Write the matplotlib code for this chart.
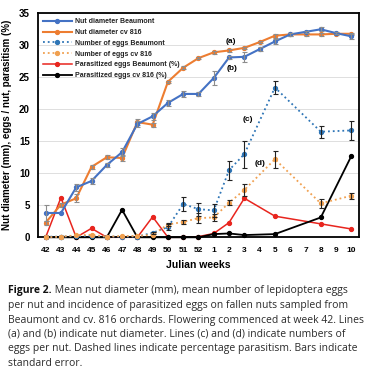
import numpy as np
import matplotlib
matplotlib.use("Agg")
import matplotlib.pyplot as plt

nan = np.nan

# weeks 42..52 then 1..10 (categorical axis)
weeks = ['42', '43', '44', '45', '46', '47', '48', '49', '50', '51', '52',
         '1', '2', '3', '4', '5', '6', '7', '8', '9', '10']

diam_beau = [3.8, 3.8, 7.8, 8.8, 11.3, 13.3, 17.7, 18.9, 21.0, 22.4, 22.4,
             24.9, 28.1, 28.2, 29.4, 30.6, 31.7, 32.1, 32.5, 31.9, 31.4]
diam_beau_se = [1.3, 0.0, 0.5, 0.4, 0.3, 0.6, 0.5, 0.6, 0.5, 0.5, 0.3,
                1.1, 0.3, 0.8, 0.3, 0.4, 0.2, 0.2, 0.3, 0.2, 0.4]
diam_816 = [2.3, 5.1, 6.1, 11.0, 12.5, 12.4, 18.0, 17.6, 24.3, 26.5, 28.0,
            28.9, 29.2, 29.6, 30.5, 31.5, 31.7, 31.7, 31.7, 31.8, 31.8]
diam_816_se = [0.3, 0.3, 0.6, 0.3, 0.3, 0.5, 0.5, 0.3, 0.2, 0.2, 0.2,
               0.2, 0.2, 0.2, 0.2, 0.3, 0.2, 0.2, 0.2, 0.2, 0.2]

eggs_beau = [0.1, 0.1, 0.2, 0.2, 0.1, 0.1, 0.1, 0.7, 1.6, 5.2, 4.4,
             4.2, 10.5, 13.0, nan, 23.4, nan, nan, 16.5, nan, 16.7]
eggs_beau_se = [0, 0, 0, 0, 0, 0, 0, 0.2, 0.5, 1.1, 1.0,
                1.0, 1.5, 2.1, nan, 1.0, nan, nan, 0.95, nan, 1.55]
eggs_816 = [0.0, 0.1, 0.3, 0.4, 0.1, 0.2, 0.2, 0.4, 2.0, 2.4, 3.0,
            3.1, 5.4, 7.4, nan, 12.2, nan, nan, 5.3, nan, 6.5]
eggs_816_se = [0, 0, 0, 0, 0, 0, 0, 0, 0.3, 0.3, 0.8,
               0.5, 0.4, 1.0, nan, 1.3, nan, nan, 0.65, nan, 0.5]

par_beau = [0, 6.2, 0, 1.4, 0, 0, 0, 3.2, 0, 0, 0.1,
            0.6, 2.3, 6.1, nan, 3.3, nan, nan, 2.1, nan, 1.3]
par_816 = [0, 0, 0, 0, 0, 4.3, 0, 0, 0, 0, 0,
           0.5, 0.6, 0.35, nan, 0.5, nan, nan, 3.1, nan, 12.7]

caption_head = "Figure 2."
caption = [
    " Mean nut diameter (mm), mean number of lepidoptera eggs",
    "per nut and incidence of parasitized eggs on fallen nuts sampled from",
    "Beaumont and cv. 816 orchards. Flowering commenced at week 42. Lines",
    "(a) and (b) indicate nut diameter. Lines (c) and (d) indicate numbers of",
    "eggs per nut. Dashed lines indicate percentage parasitism. Bars indicate",
    "standard error.",
]

W, H = 372, 370
fig = plt.figure(figsize=(W / 100, H / 100), dpi=100)
ax = fig.add_axes([38 / W, 1 - 237.3 / H, (359 - 38) / W, (237.3 - 13.3) / H])

x = np.arange(len(weeks))


def draw(vals, se, color, ls, lw, ecol, label, z):
    v = np.array(vals, dtype=float)
    ok = ~np.isnan(v)
    ax.plot(x[ok], v[ok], color=color, ls=ls, lw=lw, marker='o', ms=2.8,
            label=label, zorder=z, clip_on=False)
    if se is not None:
        s = np.array(se, dtype=float)
        m = ok & (np.nan_to_num(s) > 0)
        ax.errorbar(x[m], v[m], yerr=s[m], fmt='none', ecolor=ecol,
                    elinewidth=0.8, capsize=1.8, capthick=0.8, zorder=z + 0.5)


draw(diam_beau, diam_beau_se, '#4472C4', '-', 1.5, '#8c8c8c', 'Nut diameter Beaumont', 5)
draw(diam_816, diam_816_se, '#ED7D31', '-', 1.5, '#8c8c8c', 'Nut diameter cv 816', 4)
draw(eggs_beau, eggs_beau_se, '#2E75B6', ':', 1.3, '#222222', 'Number of eggs Beaumont', 3)
draw(eggs_816, eggs_816_se, '#F0A050', ':', 1.3, '#222222', 'Number of eggs cv 816', 3)
draw(par_beau, None, '#E8251E', '-', 1.1, None, 'Parasitized eggs Beaumont (%)', 2)
draw(par_816, None, '#000000', '-', 1.3, None, 'Parasitized eggs cv 816 (%)', 2)

ax.set_xlim(-0.5, len(weeks) - 0.5)
ax.set_ylim(0, 35)
ax.set_yticks(np.arange(0, 36, 5))
ax.set_xticks(x)
ax.set_xticklabels(weeks)
ax.yaxis.grid(True, color='#d9d9d9', lw=0.6)
ax.set_axisbelow(True)
for sp in ax.spines.values():
    sp.set_linewidth(1.3)
    sp.set_color('black')
ax.tick_params(axis='x', length=0, pad=7, labelsize=6)
ax.tick_params(axis='y', length=0, pad=6, labelsize=7)
for t in ax.get_xticklabels() + ax.get_yticklabels():
    t.set_fontweight('bold')
    t.set_fontfamily('Liberation Sans')

ax.set_xlabel('Julian weeks', fontsize=7.5, fontweight='bold',
              family='Liberation Sans', labelpad=4)
ax.set_ylabel('Nut diameter (mm), eggs / nut, parasitism (%)', fontsize=7,
              fontweight='bold', family='Liberation Sans', labelpad=5)

for lab, xi, yi in [('(a)', 12.15, 30.6), ('(b)', 12.2, 26.3), ('(c)', 13.2, 18.4), ('(d)', 14.0, 11.5)]:
    ax.text(xi, yi, lab, fontsize=6, fontweight='bold', family='Liberation Sans',
            ha='center', va='center')

leg = ax.legend(loc='upper left', frameon=False, handlelength=4.2,
                handletextpad=0.45, labelspacing=0.55, borderaxespad=0.3,
                prop={'family': 'Liberation Sans', 'weight': 'bold', 'size': 5.0})
for t in leg.get_texts():
    t.set_color('#222222')

# caption lines
left = 8
base = [293.5, 308, 322.5, 337, 351.5, 366]
cfont = 'Open Sans'
csize = 7.5
r = fig.canvas.get_renderer()
head = fig.text(left / W, 1 - base[0] / H, caption_head, fontsize=csize,
                family=cfont, fontweight='bold', color='#111111', va='baseline')
hw = head.get_window_extent(renderer=r).width
for i, line in enumerate(caption):
    x0 = left + hw if i == 0 else left
    fig.text(x0 / W, 1 - base[i] / H, line, fontsize=csize, family=cfont,
             color='#2b2b2b', va='baseline')

fig.savefig('out.png', dpi=100)
